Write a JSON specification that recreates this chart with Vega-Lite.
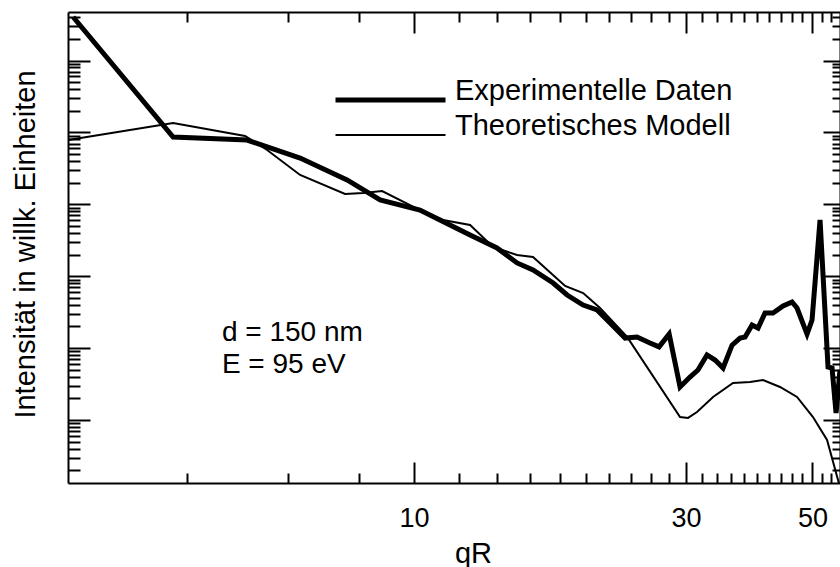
{
  "$schema": "https://vega.github.io/schema/vega-lite/v6.json",
  "width": 772,
  "height": 471,
  "autosize": "none",
  "padding": {"left": 68, "top": 12, "right": 0, "bottom": 84},
  "background": "white",
  "config": {
    "font": "Liberation Sans",
    "view": {"stroke": null},
    "axis": {
      "domainColor": "black",
      "domainWidth": 2,
      "tickColor": "black",
      "tickWidth": 2,
      "grid": false,
      "labelColor": "black",
      "titleColor": "black",
      "labelFontSize": 27,
      "titleFontSize": 29,
      "titleFontWeight": "normal",
      "labelFont": "Liberation Sans",
      "titleFont": "Liberation Sans"
    }
  },
  "data": {
    "values": [
      {"series": "Experimentelle Daten", "qR": 2.522, "I": 403000},
      {"series": "Experimentelle Daten", "qR": 3.777, "I": 8630},
      {"series": "Experimentelle Daten", "qR": 5.093, "I": 7840},
      {"series": "Experimentelle Daten", "qR": 6.310, "I": 4400},
      {"series": "Experimentelle Daten", "qR": 7.628, "I": 2180},
      {"series": "Experimentelle Daten", "qR": 8.718, "I": 1148},
      {"series": "Experimentelle Daten", "qR": 10.24, "I": 833},
      {"series": "Experimentelle Daten", "qR": 11.10, "I": 605},
      {"series": "Experimentelle Daten", "qR": 12.54, "I": 374},
      {"series": "Experimentelle Daten", "qR": 13.98, "I": 247},
      {"series": "Experimentelle Daten", "qR": 15.16, "I": 153},
      {"series": "Experimentelle Daten", "qR": 16.17, "I": 122},
      {"series": "Experimentelle Daten", "qR": 17.54, "I": 80.4},
      {"series": "Experimentelle Daten", "qR": 18.56, "I": 54.8},
      {"series": "Experimentelle Daten", "qR": 19.80, "I": 39.7},
      {"series": "Experimentelle Daten", "qR": 20.95, "I": 33.9},
      {"series": "Experimentelle Daten", "qR": 22.08, "I": 22.3},
      {"series": "Experimentelle Daten", "qR": 23.46, "I": 13.8},
      {"series": "Experimentelle Daten", "qR": 24.62, "I": 14.3},
      {"series": "Experimentelle Daten", "qR": 25.94, "I": 11.8},
      {"series": "Experimentelle Daten", "qR": 26.91, "I": 10.4},
      {"series": "Experimentelle Daten", "qR": 28.03, "I": 15.7},
      {"series": "Experimentelle Daten", "qR": 29.29, "I": 2.88},
      {"series": "Experimentelle Daten", "qR": 30.49, "I": 3.96},
      {"series": "Experimentelle Daten", "qR": 31.49, "I": 4.96},
      {"series": "Experimentelle Daten", "qR": 32.66, "I": 8.02},
      {"series": "Experimentelle Daten", "qR": 33.74, "I": 6.83},
      {"series": "Experimentelle Daten", "qR": 34.85, "I": 5.29},
      {"series": "Experimentelle Daten", "qR": 36.14, "I": 11.0},
      {"series": "Experimentelle Daten", "qR": 37.33, "I": 13.8},
      {"series": "Experimentelle Daten", "qR": 38.09, "I": 14.3},
      {"series": "Experimentelle Daten", "qR": 39.18, "I": 20.9},
      {"series": "Experimentelle Daten", "qR": 40.14, "I": 19.0},
      {"series": "Experimentelle Daten", "qR": 41.29, "I": 30.8},
      {"series": "Experimentelle Daten", "qR": 42.65, "I": 30.8},
      {"series": "Experimentelle Daten", "qR": 44.41, "I": 38.5},
      {"series": "Experimentelle Daten", "qR": 46.05, "I": 43.8},
      {"series": "Experimentelle Daten", "qR": 46.99, "I": 36.1},
      {"series": "Experimentelle Daten", "qR": 48.93, "I": 15.7},
      {"series": "Experimentelle Daten", "qR": 49.93, "I": 24.6},
      {"series": "Experimentelle Daten", "qR": 51.57, "I": 605},
      {"series": "Experimentelle Daten", "qR": 53.26, "I": 5.46},
      {"series": "Experimentelle Daten", "qR": 54.13, "I": 5.29},
      {"series": "Experimentelle Daten", "qR": 55.02, "I": 1.25},
      {"series": "Experimentelle Daten", "qR": 55.90, "I": 4.96},
      {"series": "Theoretisches Modell", "qR": 2.472, "I": 7840},
      {"series": "Theoretisches Modell", "qR": 3.777, "I": 13520},
      {"series": "Theoretisches Modell", "qR": 5.052, "I": 8910},
      {"series": "Theoretisches Modell", "qR": 5.522, "I": 5690},
      {"series": "Theoretisches Modell", "qR": 6.310, "I": 2557},
      {"series": "Theoretisches Modell", "qR": 7.566, "I": 1391},
      {"series": "Theoretisches Modell", "qR": 8.137, "I": 1436},
      {"series": "Theoretisches Modell", "qR": 8.788, "I": 1531},
      {"series": "Theoretisches Modell", "qR": 10.24, "I": 833},
      {"series": "Theoretisches Modell", "qR": 11.24, "I": 605},
      {"series": "Theoretisches Modell", "qR": 12.54, "I": 515},
      {"series": "Theoretisches Modell", "qR": 13.76, "I": 255},
      {"series": "Theoretisches Modell", "qR": 15.16, "I": 197},
      {"series": "Theoretisches Modell", "qR": 16.17, "I": 185},
      {"series": "Theoretisches Modell", "qR": 18.41, "I": 73.1},
      {"series": "Theoretisches Modell", "qR": 19.80, "I": 58.4},
      {"series": "Theoretisches Modell", "qR": 21.20, "I": 36.1},
      {"series": "Theoretisches Modell", "qR": 23.65, "I": 14.3},
      {"series": "Theoretisches Modell", "qR": 29.29, "I": 1.10},
      {"series": "Theoretisches Modell", "qR": 30.25, "I": 1.07},
      {"series": "Theoretisches Modell", "qR": 31.37, "I": 1.29},
      {"series": "Theoretisches Modell", "qR": 33.47, "I": 2.09},
      {"series": "Theoretisches Modell", "qR": 36.28, "I": 3.27},
      {"series": "Theoretisches Modell", "qR": 38.87, "I": 3.38},
      {"series": "Theoretisches Modell", "qR": 40.96, "I": 3.60},
      {"series": "Theoretisches Modell", "qR": 43.87, "I": 2.88},
      {"series": "Theoretisches Modell", "qR": 46.99, "I": 2.09},
      {"series": "Theoretisches Modell", "qR": 50.12, "I": 1.10},
      {"series": "Theoretisches Modell", "qR": 53.05, "I": 0.527},
      {"series": "Theoretisches Modell", "qR": 55.46, "I": 0.1465},
      {"series": "Theoretisches Modell", "qR": 56.35, "I": 0.0906}
    ]
  },
  "layer": [
    {
      "transform": [{"filter": "datum.series == 'Experimentelle Daten'"}],
      "mark": {"type": "line", "color": "black", "clip": true},
      "encoding": {
        "x": {
          "field": "qR", "type": "quantitative",
          "scale": {"type": "log", "domain": [2.47, 55.9], "nice": false},
          "axis": {
            "orient": "bottom",
            "values": [4,6,8,10,12,14,16,18,20,22,24,26,28,30,32,34,36,38,40,42,44,46,48,50,52,54],
            "tickSize": {"condition": {"test": "datum.value == 10 || datum.value == 30 || datum.value == 50", "value": -21}, "value": -10},
            "labelExpr": "datum.value == 10 || datum.value == 30 || datum.value == 50 ? datum.label : ''",
            "labelPadding": 43,
            "labelBaseline": "top",
            "title": "qR",
            "titleX": 405,
            "titleY": 79,
            "titleBaseline": "alphabetic",
            "titleAlign": "center"
          }
        },
        "y": {
          "field": "I", "type": "quantitative",
          "scale": {"type": "log", "domain": [0.133, 473000], "nice": false},
          "axis": {
            "orient": "left",
            "values": [0.2,0.3,0.4,0.5,0.6,0.7,0.8,0.9,1,2,3,4,5,6,7,8,9,10,20,30,40,50,60,70,80,90,100,200,300,400,500,600,700,800,900,1000,2000,3000,4000,5000,6000,7000,8000,9000,10000,20000,30000,40000,50000,60000,70000,80000,90000,100000,200000,300000,400000],
            "tickSize": {"condition": {"test": "abs(log(datum.value)/LN10 - round(log(datum.value)/LN10)) < 0.001", "value": -22}, "value": -12},
            "labels": false,
            "title": "Intensität in willk. Einheiten",
            "titleX": -34,
            "titleY": 232,
            "titleBaseline": "alphabetic",
            "titleAlign": "center",
            "titleAngle": -90
          }
        },
        "strokeWidth": {
          "field": "series", "type": "nominal",
          "scale": {"domain": ["Experimentelle Daten", "Theoretisches Modell"], "range": [5, 2]},
          "legend": {
            "orient": "none",
            "legendX": 265,
            "legendY": 74,
            "title": null,
            "symbolType": "stroke",
            "symbolSize": 12100,
            "symbolStrokeColor": "black",
            "labelFontSize": 29,
            "labelColor": "black",
            "labelFont": "Liberation Sans",
            "labelOffset": 7,
            "labelBaseline": "alphabetic",
            "labelLimit": 500,
            "clipHeight": 28,
            "rowPadding": -2,
            "padding": 0
          }
        }
      }
    },
    {
      "transform": [{"filter": "datum.series == 'Theoretisches Modell'"}],
      "mark": {"type": "line", "color": "black", "clip": true},
      "encoding": {
        "x": {
          "field": "qR", "type": "quantitative",
          "scale": {"type": "log", "domain": [2.47, 55.9], "nice": false},
          "axis": {
            "orient": "top",
            "values": [4,6,8,10,12,14,16,18,20,22,24,26,28,30,32,34,36,38,40,42,44,46,48,50,52,54],
            "tickSize": {"condition": {"test": "datum.value == 10 || datum.value == 30 || datum.value == 50", "value": -21}, "value": -10},
            "labels": false,
            "title": null
          }
        },
        "y": {
          "field": "I", "type": "quantitative",
          "scale": {"type": "log", "domain": [0.133, 473000], "nice": false},
          "axis": {
            "orient": "right",
            "values": [0.2,0.3,0.4,0.5,0.6,0.7,0.8,0.9,1,2,3,4,5,6,7,8,9,10,20,30,40,50,60,70,80,90,100,200,300,400,500,600,700,800,900,1000,2000,3000,4000,5000,6000,7000,8000,9000,10000,20000,30000,40000,50000,60000,70000,80000,90000,100000,200000,300000,400000],
            "tickSize": {"condition": {"test": "abs(log(datum.value)/LN10 - round(log(datum.value)/LN10)) < 0.001", "value": -17}, "value": -8},
            "labels": false,
            "title": null
          }
        },
        "strokeWidth": {
          "field": "series", "type": "nominal",
          "scale": {"domain": ["Experimentelle Daten", "Theoretisches Modell"], "range": [5, 2]}
        }
      }
    },
    {
      "data": {"values": [{}]},
      "mark": {"type": "text", "text": ["d = 150 nm", "E = 95 eV"], "align": "left", "baseline": "alphabetic", "fontSize": 28, "lineHeight": 32, "color": "black", "font": "Liberation Sans"},
      "encoding": {
        "x": {"datum": 4.6, "type": "quantitative", "scale": {"type": "log"}, "axis": null},
        "y": {"datum": 12.55, "type": "quantitative", "scale": {"type": "log"}, "axis": null}
      }
    }
  ],
  "resolve": {"axis": {"x": "independent", "y": "independent"}}
}
